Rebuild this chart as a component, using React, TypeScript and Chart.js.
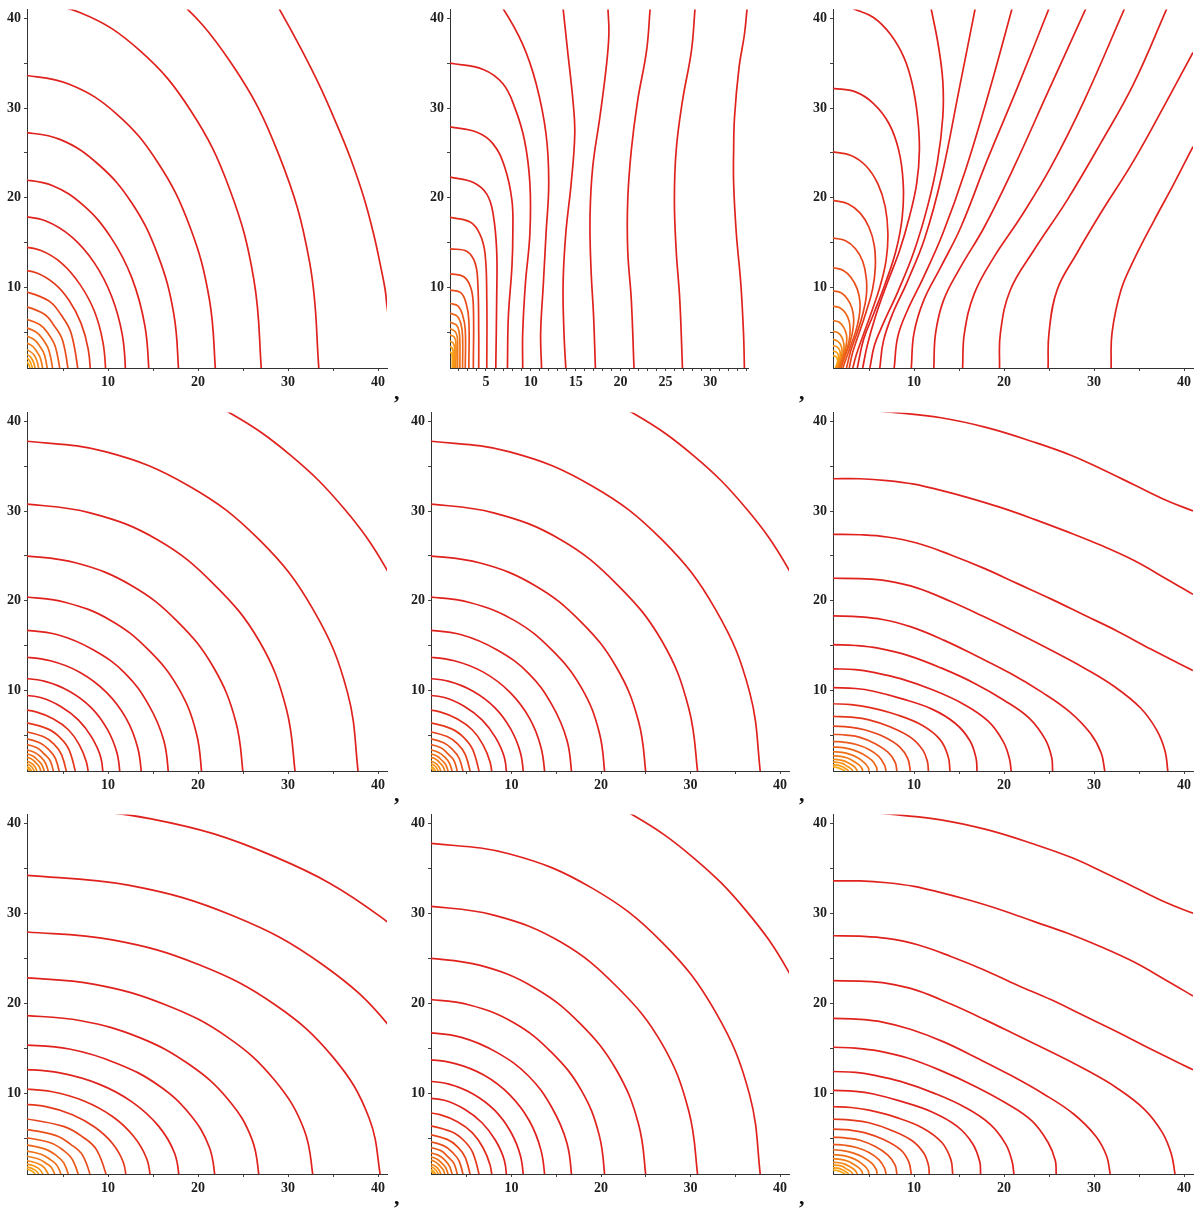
import React, { useEffect, useRef } from "react";
import { Chart, registerables } from "chart.js";

Chart.register(...registerables);

// ---------- tick values ----------
const axisTicks = [5, 10, 15, 20, 25, 30, 35, 40];
const axisLabels = [10, 20, 30, 40];
const narrowTicks = [2, 3, 4, 5, 6, 7, 8, 9, 10, 11, 12, 13, 14, 15, 16, 17, 18, 19, 20, 21, 22, 23, 24, 25, 26, 27, 28, 29, 30, 31, 32, 33, 34];
const narrowLabels = [5, 10, 15, 20, 25, 30];

// ---------- contour curves, each [x1,y1,x2,y2,...] ----------
// panel 1 (row 1, col 1)
const tallCurves: number[][] = [
  [41.6, 4, 41, 7.9, 40.8, 9.7, 40.3, 12.3, 39.5, 16, 38.4, 20.1, 36.9, 24.5, 35.4, 28.2, 33.6, 32.3, 31.4, 36.7, 29, 41.1, 27.8, 43],
  [33.5, 0, 32.4, 12.8, 29, 24.75, 23.7, 35, 16.75, 42.9, 8.7, 47.8, 0, 49.5],
  [27.1, 0, 26.2, 10.9, 23.5, 21, 19.2, 29.7, 13.55, 36.4, 7, 40.6, 0, 42],
  [22, 0, 21.25, 8.75, 19.05, 16.9, 15.55, 23.9, 11, 29.3, 5.7, 32.65, 0, 33.8],
  [17.9, 0, 17.3, 7.1, 15.5, 13.7, 12.65, 19.4, 8.95, 23.7, 4.65, 26.5, 0, 27.4],
  [14.6, 0, 14.1, 5.7, 12.65, 11.05, 10.3, 15.6, 7.3, 19.1, 3.8, 21.35, 0, 22.1],
  [12, 0, 11.6, 4.65, 10.4, 9, 8.5, 12.7, 6, 15.6, 3.1, 17.4, 0, 18],
  [9.8, 0, 9.45, 3.8, 8.5, 7.3, 6.9, 10.3, 4.9, 12.65, 2.55, 14.1, 0, 14.6],
  [8.1, 0, 7.8, 3.1, 7, 6, 5.7, 8.5, 4.05, 10.4, 2.1, 11.6, 0, 12],
  [6.8, 0, 5.9, 4.9, 4.8, 6.9, 3.4, 8.5, 0, 9.8],
  [5.7, 0, 4.95, 4.1, 4, 5.75, 2.85, 7.05, 0, 8.15],
  [4.8, 0, 4.15, 3.37, 3.4, 4.77, 2.4, 5.84, 0, 6.74],
  [4, 0, 3.46, 2.9, 2.83, 4.1, 2, 5.02, 0, 5.8],
  [3.4, 0, 2.95, 2.45, 2.4, 3.46, 1.7, 4.24, 0, 4.9],
  [2.9, 0, 2.5, 2.05, 2.05, 2.9, 1.45, 3.55, 0, 4.1],
  [2.5, 0, 1.77, 2.47, 0, 3.5],
  [2.1, 0, 1.5, 2.1, 0, 3],
  [1.8, 0, 1.27, 1.84, 0, 2.6],
  [1.55, 0, 1.1, 1.55, 0, 2.2],
];

// panel 2 (row 1, col 2)
const dipoleXCurves: number[][] = [
  [34.1, 41.1, 33.8, 38.2, 33.2, 34.5, 32.7, 29, 32.6, 25.3, 32.6, 21.6, 32.9, 16, 33.4, 10.4, 33.7, 4.9, 33.8, 1],
  [28.3, 41.1, 27.9, 36.4, 26.9, 30.8, 26.2, 25.3, 26, 19.7, 26.2, 14.1, 26.6, 8.6, 26.9, 1],
  [23.3, 41.1, 22.9, 36.4, 21.9, 30.8, 21.2, 25.3, 20.8, 19.7, 20.8, 14.1, 21.2, 8.6, 21.5, 1],
  [18.6, 41.1, 18.7, 38.2, 18.4, 34.5, 17.7, 29, 16.9, 23.4, 16.6, 17.9, 16.7, 12.3, 17, 6.7, 17.2, 1],
  [13.6, 41.1, 14.1, 36.4, 14.7, 30.8, 14.9, 27.1, 14.5, 21.6, 13.9, 16, 13.6, 10.4, 13.7, 4.9, 13.9, 1],
  [5.6, 42.5, 6.9, 41.1, 9.1, 37.1, 10.6, 32.7, 11.7, 27.1, 12, 21.6, 11.7, 16, 11.4, 10.4, 11.1, 4.9, 11.2, 1],
  [1, 35, 4.7, 34.3, 6.9, 32.7, 8.2, 30.1, 9.3, 26.4, 9.9, 21.6, 9.9, 16, 9.4, 10.4, 9.1, 4.9, 9.1, 1],
  [1, 27.9, 4, 27.3, 5.8, 26, 7.1, 23.4, 7.9, 19.7, 8, 16, 7.9, 12.3, 7.5, 6.7, 7.4, 1],
  [1, 22.3, 3.6, 21.7, 5.1, 20.4, 5.8, 18.2, 6.2, 14.1, 6.2, 8.6, 6.1, 1],
  [1, 17.8, 3.2, 17.3, 4.3, 16, 4.9, 13.8, 5.1, 8.6, 5.1, 1],
  [1, 14.3, 2.9, 14, 3.8, 12.7, 4.1, 10.4, 4.2, 5, 4.2, 1],
  [1, 11.5, 2.5, 11.2, 3.3, 10, 3.6, 8, 3.6, 1],
  [1, 9.7, 2.2, 9.4, 2.8, 8.2, 3.1, 6.3, 3.1, 1],
  [1, 8.2, 1.9, 7.9, 2.4, 6.9, 2.7, 5.3, 2.7, 1],
  [1, 7.1, 1.8, 6.8, 2.2, 6, 2.4, 4.6, 2.4, 1],
  [1, 6.1, 1.7, 5.8, 2, 5.1, 2.1, 4, 2.1, 1],
  [1, 5.4, 1.55, 5.1, 1.8, 4.5, 1.85, 3.5, 1.85, 1],
  [1, 4.7, 1.45, 4.45, 1.65, 3.9, 1.65, 1],
  [1, 4.0, 1.35, 3.8, 1.5, 3.3, 1.5, 1],
  [1, 3.4, 1.25, 3.2, 1.35, 2.8, 1.35, 1],
  [1, 2.8, 1.2, 2.6, 1.25, 2.2, 1.25, 1],
];

// panel 3 (row 1, col 3)
const dipoleDiagCurves: number[][] = [
  [31.9, 1, 32, 4.9, 33, 9.7, 34.4, 13, 36.7, 17.5, 38.9, 21.6, 41, 25.7, 42, 27.6],
  [24.9, 1, 25, 4.9, 25.9, 9.7, 28.1, 13.8, 30.7, 18.2, 34.4, 24.1, 38.1, 30.8, 41, 36.2, 42, 38],
  [19.5, 1, 19.6, 4.9, 20.7, 9.7, 23.3, 14.1, 27, 19.7, 30.7, 26, 34.4, 32.7, 38.1, 41.1],
  [15.4, 1, 15.6, 4.9, 16.7, 9.3, 18.9, 13.4, 21.9, 17.9, 25.2, 23.4, 28.9, 30.8, 33.4, 41.1],
  [12.2, 1, 12.4, 4.9, 13.3, 8.6, 15.2, 12.3, 17.8, 16.7, 21.1, 23.4, 24.8, 31.6, 29.1, 41.1],
  [9.7, 1, 10, 4.9, 11.1, 8.6, 13, 12.3, 15.2, 16.7, 18.1, 24.1, 21.5, 32.3, 25, 41.1],
  [7.8, 1, 8.2, 4.5, 9.3, 7.5, 11, 11, 13.2, 16, 15.7, 23, 18.4, 32, 20.9, 41.1],
  [6.2, 1, 6.6, 4, 7.6, 7, 9.2, 10.5, 11.2, 15.5, 13.1, 22.5, 15, 32, 16.8, 41.1],
  [5.1, 1, 5.6, 3.5, 6.6, 6, 8.2, 9.5, 10, 14, 11.5, 19, 12.6, 24, 13.2, 29, 13.2, 33, 12.7, 37, 11.9, 41.1],
  [3.2, 41.1, 5.5, 40.1, 7.4, 38.2, 8.9, 35.6, 9.8, 32.7, 10.4, 29, 10.6, 25.3, 10.3, 21.6, 9.5, 17.9, 8.4, 14.1, 7, 10.4, 5.7, 6.7, 4.8, 3.5, 4.3, 1],
  [1, 32.2, 3.5, 31.8, 5.5, 30.5, 7.2, 28.3, 8.3, 25.3, 8.8, 21.6, 8.7, 17.9, 8, 14.1, 6.8, 10.4, 5.5, 7, 4.4, 4.2, 3.7, 1],
  [1, 25.1, 3, 24.7, 4.7, 23.5, 6, 21.5, 6.8, 19, 7.1, 16, 6.9, 13, 6.2, 10, 5.3, 7.3, 4.4, 4.8, 3.6, 2.5, 3.2, 1],
  [1, 19.7, 2.7, 19.3, 4, 18.3, 5, 16.7, 5.6, 14.6, 5.7, 12.2, 5.4, 9.8, 4.7, 7.3, 3.9, 4.9, 3.2, 2.8, 2.8, 1],
  [1, 15.5, 2.4, 15.2, 3.5, 14.3, 4.3, 12.9, 4.7, 11, 4.7, 9, 4.3, 7, 3.7, 5, 3, 3, 2.5, 1],
  [1, 12.2, 2.1, 11.9, 3, 11.1, 3.7, 9.8, 4, 8.3, 3.9, 6.7, 3.5, 5, 2.9, 3.3, 2.3, 1.6, 2.1, 1],
  [1, 9.6, 1.9, 9.4, 2.6, 8.7, 3.1, 7.7, 3.3, 6.5, 3.2, 5.2, 2.9, 3.9, 2.4, 2.5, 1.9, 1],
  [1, 7.9, 1.8, 7.7, 2.4, 7.1, 2.8, 6.2, 2.9, 5.2, 2.8, 4.1, 2.5, 3, 2.1, 1.9, 1.8, 1],
  [1, 6.3, 1.7, 6.1, 2.2, 5.5, 2.5, 4.7, 2.5, 3.8, 2.3, 2.8, 2, 1.9, 1.7, 1],
  [1, 5.1, 1.6, 4.9, 2, 4.4, 2.2, 3.7, 2.2, 2.9, 2, 2.1, 1.6, 1],
  [1, 4.2, 1.5, 4, 1.85, 3.6, 2, 3, 1.95, 2.3, 1.75, 1.6, 1.5, 1],
  [1, 3.5, 1.45, 3.35, 1.75, 2.95, 1.8, 2.4, 1.7, 1.8, 1.45, 1],
  [1, 2.9, 1.4, 2.75, 1.6, 2.4, 1.6, 1.9, 1.45, 1.4, 1.3, 1],
  [1, 2.4, 1.35, 2.25, 1.5, 1.9, 1.45, 1.45, 1.25, 1],
];

// panels 4, 5, 8 (circular contours)
const roundCurves: number[][] = [
  [44.4, 16.1, 40.9, 23.6, 36.2, 30.3, 30.3, 36.2, 23.6, 40.9, 16.1, 44.4],
  [37.9, 0, 36.6, 9.8, 32.8, 19, 26.8, 26.8, 19, 32.8, 9.8, 36.6, 0, 37.9],
  [30.9, 0, 29.8, 8, 26.8, 15.5, 21.8, 21.8, 15.5, 26.8, 8, 29.8, 0, 30.9],
  [25.1, 0, 24.2, 6.5, 21.7, 12.6, 17.7, 17.7, 12.6, 21.7, 6.5, 24.2, 0, 25.1],
  [20.5, 0, 19.8, 5.3, 17.8, 10.3, 14.5, 14.5, 10.3, 17.8, 5.3, 19.8, 0, 20.5],
  [16.8, 0, 16.2, 4.4, 14.5, 8.4, 11.9, 11.9, 8.4, 14.5, 4.4, 16.2, 0, 16.8],
  [13.8, 0, 13.3, 3.6, 12, 6.9, 9.8, 9.8, 6.9, 12, 3.6, 13.3, 0, 13.8],
  [11.4, 0, 11, 3, 9.9, 5.7, 8.1, 8.1, 5.7, 9.9, 3, 11, 0, 11.4],
  [9.5, 0, 9.2, 2.5, 8.2, 4.75, 6.7, 6.7, 4.75, 8.2, 2.5, 9.2, 0, 9.5],
  [7.9, 0, 7.6, 2, 6.8, 3.95, 5.6, 5.6, 3.95, 6.8, 2, 7.6, 0, 7.9],
  [6.6, 0, 5.7, 3.3, 4.7, 4.7, 3.3, 5.7, 0, 6.6],
  [5.6, 0, 4.85, 2.8, 4, 4, 2.8, 4.85, 0, 5.6],
  [4.8, 0, 4.16, 2.4, 3.4, 3.4, 2.4, 4.16, 0, 4.8],
  [4.15, 0, 3.6, 2.1, 2.9, 2.9, 2.1, 3.6, 0, 4.15],
  [3.6, 0, 3.1, 1.8, 2.55, 2.55, 1.8, 3.1, 0, 3.6],
  [3.15, 0, 2.7, 1.6, 2.2, 2.2, 1.6, 2.7, 0, 3.15],
  [2.75, 0, 2.4, 1.4, 1.95, 1.95, 1.4, 2.4, 0, 2.75],
  [2.4, 0, 1.7, 1.7, 0, 2.4],
  [2.1, 0, 1.5, 1.5, 0, 2.1],
  [1.85, 0, 1.3, 1.3, 0, 1.85],
  [1.65, 0, 1.17, 1.17, 0, 1.65],
];

// panel 6 (row 2, col 3)
const flatCurves: number[][] = [
  [1, 41.6, 7.7, 41.0, 13, 40.4, 18.1, 39.3, 23.3, 37.7, 27.5, 36.2, 31, 34.6, 34.5, 32.9, 38, 31.2, 41, 30],
  [1, 33.6, 4, 33.6, 7, 33.4, 10, 33, 13, 32.3, 16, 31.5, 19.6, 30.4, 23.3, 29.1, 27, 27.7, 30.7, 26.2, 34.4, 24.5, 38.1, 22.4, 41, 20.7],
  [1, 27.4, 4, 27.35, 7, 27.1, 10.4, 26.4, 14.1, 25.1, 17.8, 23.6, 21.5, 21.9, 25.2, 20.2, 28.9, 18.4, 32.6, 16.6, 36.3, 14.6, 41, 12.2],
  [1, 22.5, 4, 22.45, 7, 22.2, 10.4, 21.4, 14.1, 19.9, 17.8, 18.2, 21.5, 16.4, 25.2, 14.5, 28.9, 12.5, 32.3, 10.4, 35.2, 8, 37, 5.5, 37.9, 3.2, 38.2, 1],
  [1, 18.3, 4, 18.2, 6.5, 17.9, 9.6, 17.1, 13.3, 15.6, 17, 13.8, 20.7, 11.9, 24.2, 9.8, 27.3, 7.6, 29.6, 5.2, 30.8, 3, 31.2, 1],
  [1, 15.1, 3.5, 15, 6, 14.7, 9.3, 13.9, 13, 12.5, 16.7, 10.8, 20, 8.9, 22.8, 6.9, 24.6, 4.5, 25.3, 2.5, 25.4, 1],
  [1, 12.4, 3.5, 12.3, 5.5, 12, 8.5, 11.3, 12.2, 10, 15.6, 8.4, 18.3, 6.5, 19.9, 4.3, 20.6, 2.4, 20.8, 1],
  [1, 10.3, 3.5, 10.2, 5.5, 9.9, 8.5, 9.1, 12, 7.9, 14.6, 6.3, 16.2, 4.4, 16.9, 2.4, 17, 1],
  [1, 8.5, 3, 8.4, 5, 8.1, 8, 7.3, 10.9, 6.1, 12.9, 4.5, 13.8, 2.6, 14, 1],
  [1, 7.1, 3, 7, 5, 6.7, 7.4, 5.9, 9.7, 4.7, 11, 3.3, 11.5, 2, 11.6, 1],
  [1, 6, 2.8, 5.9, 4.5, 5.6, 6.7, 4.8, 8.4, 3.7, 9.3, 2.4, 9.6, 1],
  [1, 5.1, 2.5, 5, 4, 4.75, 5.7, 4.05, 7.1, 3.1, 7.9, 2, 8.1, 1],
  [1, 4.3, 2.3, 4.2, 3.6, 3.95, 5, 3.4, 6.1, 2.6, 6.7, 1.7, 6.9, 1],
  [1, 3.7, 2.1, 3.6, 3.2, 3.35, 4.3, 2.9, 5.3, 2.2, 5.8, 1.5, 5.9, 1],
  [1, 3.15, 2, 3.07, 2.9, 2.85, 3.7, 2.5, 4.5, 1.9, 4.9, 1.4, 5, 1],
  [1, 2.7, 1.8, 2.63, 2.6, 2.45, 3.2, 2.15, 3.85, 1.7, 4.2, 1.3, 4.3, 1],
  [1, 2.3, 1.7, 2.25, 2.3, 2.1, 2.8, 1.85, 3.35, 1.5, 3.6, 1.2, 3.7, 1],
  [1, 2.0, 1.6, 1.95, 2.1, 1.82, 2.45, 1.6, 2.9, 1.32, 3.15, 1.1, 3.2, 1],
  [1, 1.7, 1.55, 1.65, 2.1, 1.45, 2.5, 1.2, 2.75, 1],
  [1, 1.45, 1.5, 1.38, 1.9, 1.22, 2.35, 1],
];

// panel 9 (row 3, col 3)
const flatCurvesLow: number[][] = [
  [1, 41.7, 7.6, 41.0, 13, 40.4, 18.1, 39.3, 23.3, 37.7, 27.5, 36.2, 31, 34.6, 34.5, 32.9, 38, 31.2, 41, 30],
  [1, 33.6, 4, 33.6, 7, 33.4, 10, 33, 13, 32.3, 16, 31.5, 19.6, 30.4, 23.3, 29.1, 27, 27.8, 30.7, 26.3, 34.4, 24.6, 38.1, 22.5, 41, 20.8],
  [1, 27.5, 4, 27.45, 7, 27.2, 10.4, 26.5, 14.1, 25.2, 17.8, 23.7, 21.5, 22, 25.2, 20.4, 28.9, 18.6, 32.6, 16.8, 36.3, 14.9, 41, 12.6],
  [1, 22.5, 4, 22.45, 7, 22.2, 10.4, 21.4, 14.1, 19.9, 17.8, 18.2, 21.5, 16.4, 25.2, 14.6, 28.9, 12.7, 32.5, 10.6, 35.6, 8.2, 37.6, 5.6, 38.6, 3.2, 39, 1],
  [1, 18.3, 4, 18.2, 6.5, 17.9, 9.6, 17.1, 13.3, 15.7, 17, 13.9, 20.7, 12, 24.4, 9.9, 27.7, 7.7, 30.2, 5.2, 31.4, 3, 31.8, 1],
  [1, 15.1, 3.5, 15, 6, 14.7, 9.3, 13.9, 13, 12.5, 16.7, 10.8, 20.2, 8.9, 23.1, 6.9, 24.9, 4.5, 25.7, 2.5, 25.8, 1],
  [1, 12.4, 3.5, 12.3, 5.5, 12, 8.5, 11.3, 12.2, 10, 15.7, 8.4, 18.5, 6.5, 20.2, 4.3, 20.9, 2.4, 21.1, 1],
  [1, 10.3, 3.5, 10.2, 5.5, 9.9, 8.5, 9.1, 12, 7.9, 14.8, 6.3, 16.5, 4.4, 17.3, 2.4, 17.4, 1],
  [1, 8.5, 3, 8.4, 5, 8.1, 8, 7.3, 11, 6.1, 13.1, 4.5, 14.1, 2.6, 14.3, 1],
  [1, 7.1, 3, 7, 5, 6.7, 7.4, 5.9, 9.8, 4.7, 11.1, 3.3, 11.6, 2, 11.7, 1],
  [1, 6, 2.8, 5.9, 4.5, 5.6, 6.7, 4.8, 8.5, 3.7, 9.4, 2.4, 9.7, 1],
  [1, 5.1, 2.5, 5, 4, 4.75, 5.7, 4.05, 7.1, 3.1, 7.9, 2, 8.1, 1],
  [1, 4.3, 2.3, 4.2, 3.6, 3.95, 5, 3.4, 6.1, 2.6, 6.7, 1.7, 6.9, 1],
  [1, 3.7, 2.1, 3.6, 3.2, 3.35, 4.3, 2.9, 5.3, 2.2, 5.8, 1.5, 5.9, 1],
  [1, 3.15, 2, 3.07, 2.9, 2.85, 3.7, 2.5, 4.5, 1.9, 4.9, 1.4, 5, 1],
  [1, 2.7, 1.8, 2.63, 2.6, 2.45, 3.2, 2.15, 3.85, 1.7, 4.2, 1.3, 4.3, 1],
  [1, 2.3, 1.7, 2.25, 2.3, 2.1, 2.8, 1.85, 3.35, 1.5, 3.6, 1.2, 3.7, 1],
  [1, 2.0, 1.6, 1.95, 2.1, 1.82, 2.45, 1.6, 2.9, 1.32, 3.15, 1.1, 3.2, 1],
  [1, 1.7, 1.55, 1.65, 2.1, 1.45, 2.5, 1.2, 2.75, 1],
  [1, 1.45, 1.5, 1.38, 1.9, 1.22, 2.35, 1],
];

// panel 7 (row 3, col 1)
const wideCurves: number[][] = [
  [49.4, 20.95, 40.3, 29.6, 28.5, 36.3, 14.8, 40.5, 0, 41.9],
  [46.3, 8.9, 41.5, 17.15, 33.9, 24.25, 23.95, 29.7, 12.4, 33.1, 0, 34.3],
  [40.4, 0, 39, 7.25, 35, 14, 28.6, 19.8, 20.2, 24.25, 10.5, 27.05, 0, 28],
  [32.9, 0, 31.8, 5.9, 28.5, 11.45, 23.3, 16.2, 16.45, 19.8, 8.5, 22.1, 0, 22.9],
  [26.9, 0, 26, 4.85, 23.3, 9.35, 19, 13.2, 13.45, 16.2, 7, 18.05, 0, 18.7],
  [22, 0, 21.25, 4, 19.05, 7.7, 15.55, 10.9, 11, 13.3, 5.7, 14.9, 0, 15.4],
  [18, 0, 17.4, 3.3, 15.6, 6.35, 12.7, 9, 9, 11, 4.65, 12.25, 0, 12.7],
  [14.8, 0, 14.3, 2.7, 12.8, 5.25, 10.5, 7.4, 7.4, 9.1, 3.8, 10.15, 0, 10.5],
  [12.1, 0, 11.7, 2.3, 10.5, 4.4, 8.55, 6.2, 6.05, 7.6, 3.1, 8.5, 0, 8.8],
  [10.1, 0, 8.75, 3.65, 7.15, 5.15, 5.05, 6.3, 0, 7.3],
  [8.3, 0, 7.2, 3.05, 5.85, 4.3, 4.15, 5.3, 0, 6.1],
  [7, 0, 6.05, 2.6, 4.95, 3.7, 3.5, 4.5, 0, 5.2],
  [5.9, 0, 5.1, 2.2, 4.2, 3.1, 2.95, 3.8, 0, 4.4],
  [5.1, 0, 4.4, 1.85, 3.6, 2.6, 2.55, 3.2, 0, 3.7],
  [4.4, 0, 3.8, 1.6, 3.1, 2.2, 2.2, 2.7, 0, 3.15],
  [3.8, 0, 2.7, 1.9, 0, 2.7],
  [3.2, 0, 2.25, 1.65, 0, 2.3],
  [2.75, 0, 1.95, 1.4, 0, 2],
  [2.35, 0, 1.65, 1.25, 0, 1.75],
];

// ---------- layout ----------
const YW = 34;
const PT = 10;
const PR = 10;
const XH = 26;
const rowTop = [8, 411, 813];
const rowBottom = [368, 771, 1174];
const commaBaseline = [396, 798, 1201];
const commaX = [394, 799];

type Spec = {
  curves: number[][];
  row: number;
  left: number;
  right: number;
  xMax: number;
  xTicks: number[];
  xLabels: number[];
};

const specs: Spec[] = [
  { curves: tallCurves, row: 0, left: 27, right: 387, xMax: 41, xTicks: axisTicks, xLabels: axisLabels },
  { curves: dipoleXCurves, row: 0, left: 450, right: 748, xMax: 34.2, xTicks: narrowTicks, xLabels: narrowLabels },
  { curves: dipoleDiagCurves, row: 0, left: 833, right: 1193, xMax: 41, xTicks: axisTicks, xLabels: axisLabels },
  { curves: roundCurves, row: 1, left: 27, right: 387, xMax: 41, xTicks: axisTicks, xLabels: axisLabels },
  { curves: roundCurves, row: 1, left: 431, right: 789, xMax: 41, xTicks: axisTicks, xLabels: axisLabels },
  { curves: flatCurves, row: 1, left: 833, right: 1193, xMax: 41, xTicks: axisTicks, xLabels: axisLabels },
  { curves: wideCurves, row: 2, left: 27, right: 387, xMax: 41, xTicks: axisTicks, xLabels: axisLabels },
  { curves: roundCurves, row: 2, left: 431, right: 789, xMax: 41, xTicks: axisTicks, xLabels: axisLabels },
  { curves: flatCurvesLow, row: 2, left: 833, right: 1193, xMax: 41, xTicks: axisTicks, xLabels: axisLabels },
];

function toPoints(flat: number[]) {
  const pts: { x: number; y: number }[] = [];
  for (let i = 0; i + 1 < flat.length; i += 2) pts.push({ x: flat[i], y: flat[i + 1] });
  return pts;
}

// j = number of curves inside this one (0 = innermost)
function lineColor(j: number) {
  const t = Math.min(1, j / 12);
  const r = Math.round(250 - 26 * t);
  const g = Math.round(168 - 134 * t);
  const b = Math.round(20 + 10 * t);
  return `rgb(${r},${g},${b})`;
}

const tickFont = { family: "'Liberation Serif', 'Times New Roman', serif", size: 14, weight: "bold" };
const inkColor = "#1e1e1e";

function ContourPanel({ spec }: { spec: Spec }) {
  const ref = useRef<HTMLCanvasElement | null>(null);
  const top = rowTop[spec.row];
  const bottom = rowBottom[spec.row];
  const W = spec.right - spec.left + YW + PR;
  const H = bottom - top + PT + XH;

  useEffect(() => {
    if (!ref.current) return;
    const n = spec.curves.length;
    const chart = new Chart(ref.current, {
      type: "scatter",
      data: {
        datasets: spec.curves.map((c, i) => ({
          data: toPoints(c),
          showLine: true,
          borderColor: lineColor(n - 1 - i),
          backgroundColor: lineColor(n - 1 - i),
          borderWidth: 1.7,
          pointRadius: 0,
          pointHoverRadius: 0,
          tension: 0.4,
          fill: false,
        })),
      },
      options: {
        animation: false,
        responsive: false,
        maintainAspectRatio: false,
        events: [],
        layout: { padding: { top: PT, right: PR, left: 0, bottom: 0 } },
        elements: { line: { capBezierPoints: false } },
        plugins: { legend: { display: false }, tooltip: { enabled: false } },
        scales: {
          x: {
            type: "linear",
            min: 1,
            max: spec.xMax,
            afterFit: (s: any) => {
              s.height = XH;
            },
            afterBuildTicks: (s: any) => {
              s.ticks = spec.xTicks.map((v) => ({ value: v }));
            },
            ticks: {
              autoSkip: false,
              maxRotation: 0,
              minRotation: 0,
              padding: 3,
              color: inkColor,
              font: tickFont,
              callback: (v: any) => (spec.xLabels.includes(Number(v)) ? String(v) : ""),
            },
            grid: { display: true, drawOnChartArea: false, drawTicks: true, tickLength: 3, color: "#444" },
            border: { display: true, color: "#333", width: 1 },
          },
          y: {
            type: "linear",
            min: 1,
            max: 41,
            afterFit: (s: any) => {
              s.width = YW;
            },
            afterBuildTicks: (s: any) => {
              s.ticks = axisTicks.map((v) => ({ value: v }));
            },
            ticks: {
              autoSkip: false,
              padding: 3,
              color: inkColor,
              font: tickFont,
              callback: (v: any) => (axisLabels.includes(Number(v)) ? String(v) : ""),
            },
            grid: { display: true, drawOnChartArea: false, drawTicks: true, tickLength: 3, color: "#444" },
            border: { display: true, color: "#333", width: 1 },
          },
        },
      },
    } as any);
    return () => chart.destroy();
  }, [spec]);

  return (
    <canvas
      ref={ref}
      width={W}
      height={H}
      style={{ position: "absolute", left: spec.left - YW, top: top - PT, width: W, height: H }}
    />
  );
}

export default function App() {
  return (
    <div
      style={{
        position: "absolute",
        left: 0,
        top: 0,
        width: 1200,
        height: 1215,
        overflow: "hidden",
        background: "#ffffff",
      }}
    >
      {specs.map((s, i) => (
        <ContourPanel key={i} spec={s} />
      ))}
      {commaBaseline.map((by, r) =>
        commaX.map((cx, c) => (
          <div
            key={`c${r}-${c}`}
            style={{
              position: "absolute",
              left: cx,
              top: by - 15,
              fontFamily: "'Liberation Serif', 'Times New Roman', serif",
              fontWeight: "bold",
              fontSize: 22,
              lineHeight: "22px",
              color: "#111",
            }}
          >
            ,
          </div>
        ))
      )}
    </div>
  );
}
